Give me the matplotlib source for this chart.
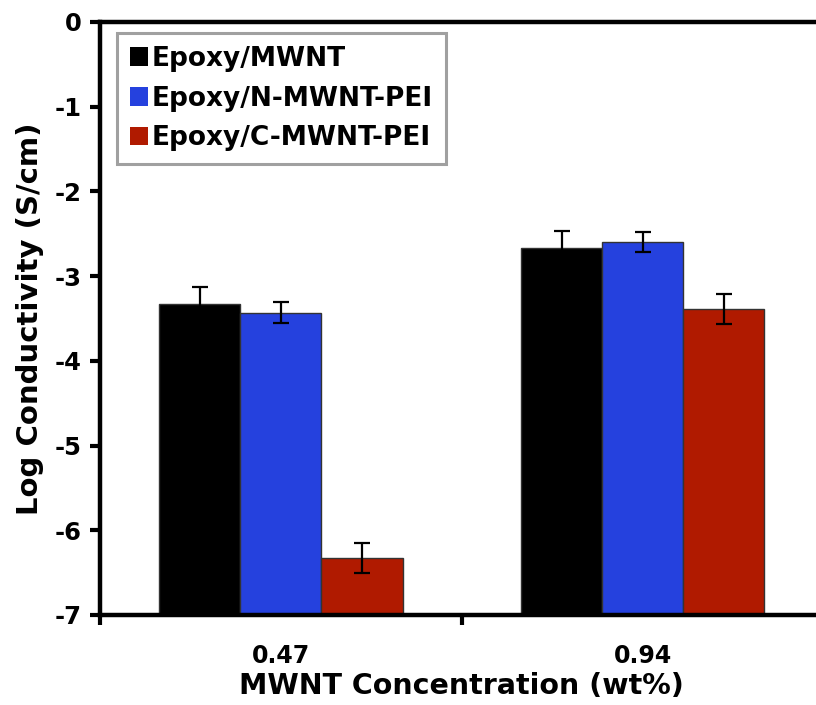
import numpy as np
import matplotlib.pyplot as plt

plt.rcParams['font.family'] = ['DejaVu Sans']
plt.rcParams['font.weight'] = 'bold'
plt.rcParams['axes.unicode_minus'] = False

concentrations = ["0.47", "0.94"]
series = ["Epoxy/MWNT", "Epoxy/N-MWNT-PEI", "Epoxy/C-MWNT-PEI"]
log_cond = {
    "Epoxy/MWNT":       [-3.33, -2.67],
    "Epoxy/N-MWNT-PEI": [-3.43, -2.60],
    "Epoxy/C-MWNT-PEI": [-6.33, -3.39],
}
errors = {
    "Epoxy/MWNT":       [0.20, 0.20],
    "Epoxy/N-MWNT-PEI": [0.12, 0.12],
    "Epoxy/C-MWNT-PEI": [0.18, 0.18],
}
colors = ["#000000", "#2541DE", "#B01A00"]

y_min = -7

fig = plt.figure(figsize=(8.16, 7.05), dpi=100)
ax = fig.add_axes([0.1225, 0.1277, 0.887, 0.8411])

centers = np.arange(len(concentrations)) + 0.5
width = 0.224
offsets = [-width, 0, width]

for name, c, off in zip(series, colors, offsets):
    vals = np.array(log_cond[name])
    ax.bar(centers + off, vals - y_min, bottom=y_min, width=width,
           color=c, edgecolor="#333333", linewidth=1.0, label=name,
           zorder=2)
    ax.errorbar(centers + off, vals, yerr=errors[name], fmt="none",
                ecolor="black", elinewidth=1.6, capsize=5.5, capthick=1.6,
                zorder=3)

ax.set_xlim(0, 2)
ax.set_ylim(y_min, 0)
ax.set_yticks(np.arange(-7, 1, 1))
ax.set_yticklabels([str(v) for v in range(-7, 1)])

# category boundaries get tick marks, labels sit at the centres
ax.set_xticks([0, 1, 2])
ax.set_xticklabels([])
ax.set_xticks(centers, minor=True)
ax.set_xticklabels(concentrations, minor=True)
ax.tick_params(axis="x", which="minor", length=0, pad=21, labelsize=17)
ax.tick_params(axis="x", which="major", direction="out", length=7, width=3)
ax.tick_params(axis="y", direction="out", length=7, width=3, labelsize=17.5, pad=6)

for side in ["left", "bottom", "top"]:
    ax.spines[side].set_linewidth(3.2)
ax.spines["right"].set_visible(False)

ax.set_xlabel("MWNT Concentration (wt%)", fontsize=20.5, fontweight="bold", labelpad=3)
ax.set_ylabel("Log Conductivity (S/cm)", fontsize=21, fontweight="bold", labelpad=8)

leg = ax.legend(loc="upper left", bbox_to_anchor=(0.0235, 0.981), fontsize=19,
                handlelength=0.7, handleheight=0.7, handletextpad=0.15,
                labelspacing=0.52, borderpad=0.48, borderaxespad=0,
                fancybox=False, edgecolor="#a0a0a0", framealpha=1)
leg.get_frame().set_linewidth(2.2)
for h in leg.legend_handles:
    h.set_edgecolor("none")

fig.savefig("out.png", dpi=100)
